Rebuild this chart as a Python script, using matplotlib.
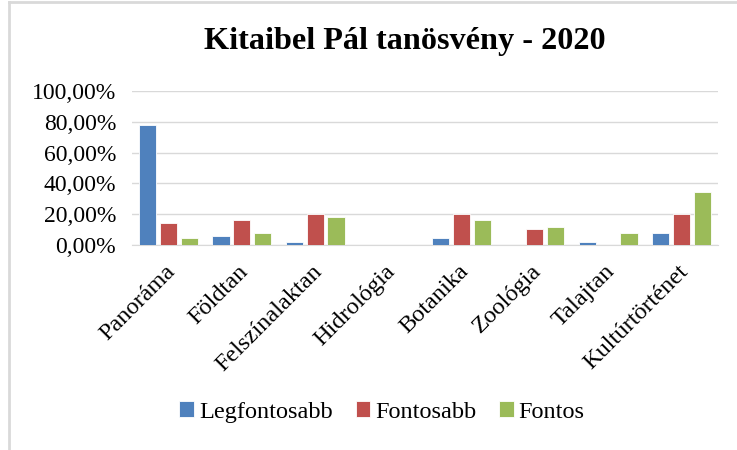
import numpy as np
import matplotlib
matplotlib.use('Agg')
import matplotlib.pyplot as plt
from matplotlib.ticker import FuncFormatter
from matplotlib.lines import Line2D
import matplotlib.transforms as mtransforms

categories = ['Panoráma', 'Földtan', 'Felszínalaktan', 'Hidrológia',
              'Botanika', 'Zoológia', 'Talajtan', 'Kultúrtörténet']
legfontosabb = [0.78, 0.06, 0.02, 0.0, 0.045, 0.0, 0.02, 0.078]
fontosabb = [0.143, 0.162, 0.20, 0.0, 0.20, 0.104, 0.0, 0.20]
fontos = [0.045, 0.078, 0.179, 0.0, 0.162, 0.119, 0.078, 0.344]
series_names = ['Legfontosabb', 'Fontosabb', 'Fontos']
colors = ['#4F81BD', '#C0504D', '#9BBB59']

plt.rcParams['font.family'] = ['Liberation Serif', 'DejaVu Serif']

W, H = 737, 450
fig = plt.figure(figsize=(W / 100, H / 100), dpi=100)
ax = fig.add_axes([132 / W, 1 - 245 / H, (718 - 132) / W, (245 - 91) / H])

x = np.arange(len(categories))
width = 0.235
offsets = [-0.285, 0, 0.285]
for vals, off, col, name in zip([legfontosabb, fontosabb, fontos], offsets, colors, series_names):
    ax.bar(x + off, vals, width, color=col, edgecolor='white', linewidth=0.6, label=name, zorder=3)

ax.set_xlim(-0.5, len(categories) - 0.5)
ax.set_ylim(0, 1)
ax.set_yticks(np.arange(0, 1.01, 0.2))
ax.yaxis.set_major_formatter(FuncFormatter(lambda v, p: f'{v * 100:.2f}%'.replace('.', ',')))
ax.grid(axis='y', color='#D9D9D9', linewidth=1, zorder=0)
for s in ['top', 'right', 'left']:
    ax.spines[s].set_visible(False)
ax.spines['bottom'].set_color('#D9D9D9')
ax.tick_params(axis='both', length=0)
ax.tick_params(axis='y', labelsize=17, pad=11.5)

ax.set_xticks(x)
ax.set_xticklabels(categories, rotation=45, ha='right', rotation_mode='anchor', fontsize=17.5)
shift = mtransforms.ScaledTranslation(-4 / 100, -11 / 100, fig.dpi_scale_trans)
for lbl in ax.get_xticklabels():
    lbl.set_transform(lbl.get_transform() + shift)

fig.text(405 / W, 1 - 42 / H, 'Kitaibel Pál tanösvény - 2020', ha='center', va='center',
         fontsize=23.2, fontweight='bold')

fig.legend(loc='center', bbox_to_anchor=(382 / W, 1 - 412 / H), ncol=3, frameon=False,
           fontsize=17.5, handlelength=0.6, handleheight=0.6, handletextpad=0.2, columnspacing=0.95)

fig.add_artist(Line2D([9 / W, 9 / W], [0, 1 - 2 / H], color='#D9D9D9', linewidth=2))
fig.add_artist(Line2D([9 / W, 1], [1 - 2 / H, 1 - 2 / H], color='#D9D9D9', linewidth=2))

fig.savefig('out.png', dpi=100)
